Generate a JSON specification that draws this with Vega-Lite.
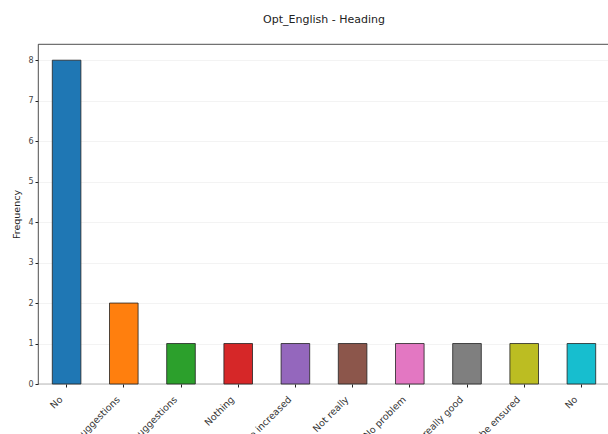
{
  "$schema": "https://vega.github.io/schema/vega-lite/v6.json",
  "width": 572,
  "height": 340,
  "autosize": {"type": "none"},
  "padding": {"left": 38, "top": 44, "right": 0, "bottom": 50},
  "background": "white",
  "title": {
    "text": "Opt_English - Heading",
    "fontSize": 11,
    "font": "DejaVu Sans",
    "fontWeight": "normal",
    "color": "#222",
    "offset": 19,
    "anchor": "middle"
  },
  "config": {
    "font": "DejaVu Sans",
    "view": {"stroke": "#222", "strokeWidth": 0.8}
  },
  "data": {
    "values": [
      {"answer": "No", "count": 8},
      {"answer": "No suggestions", "count": 2},
      {"answer": "No further suggestions", "count": 1},
      {"answer": "Nothing", "count": 1},
      {"answer": "Salary should be increased", "count": 1},
      {"answer": "Not really", "count": 1},
      {"answer": "No problem", "count": 1},
      {"answer": "It was really good", "count": 1},
      {"answer": "Quality must be ensured", "count": 1},
      {"answer": "No ", "count": 1}
    ]
  },
  "mark": {"type": "bar", "stroke": "#222", "strokeWidth": 0.8},
  "encoding": {
    "x": {
      "field": "answer",
      "type": "nominal",
      "sort": null,
      "scale": {"paddingInner": 0.5, "paddingOuter": 0.25},
      "axis": {
        "title": null,
        "labelAngle": -45,
        "labelAlign": "right",
        "labelBaseline": "top",
        "labelFontSize": 9.5,
        "labelColor": "#333",
        "labelPadding": 7,
        "labelOffset": -9,
        "labelExpr": "trim(datum.label)",
        "labelLimit": 300,
        "tickColor": "#222",
        "tickSize": 3,
        "domain": false,
        "grid": false
      }
    },
    "y": {
      "field": "count",
      "type": "quantitative",
      "scale": {"domain": [0, 8.4], "nice": false},
      "axis": {
        "title": "Frequency",
        "titleFontSize": 9.5,
        "titleFontWeight": "normal",
        "titleColor": "#222",
        "titlePadding": 6,
        "values": [0, 1, 2, 3, 4, 5, 6, 7, 8],
        "labelFontSize": 8,
        "labelColor": "#444",
        "tickColor": "#222",
        "tickSize": 3,
        "domain": false,
        "grid": true,
        "gridColor": "#f0f0f0",
        "gridWidth": 0.8
      }
    },
    "color": {
      "field": "answer",
      "type": "nominal",
      "sort": null,
      "legend": null,
      "scale": {
        "range": ["#1f77b4", "#ff7f0e", "#2ca02c", "#d62728", "#9467bd", "#8c564b", "#e377c2", "#7f7f7f", "#bcbd22", "#17becf"]
      }
    }
  }
}
